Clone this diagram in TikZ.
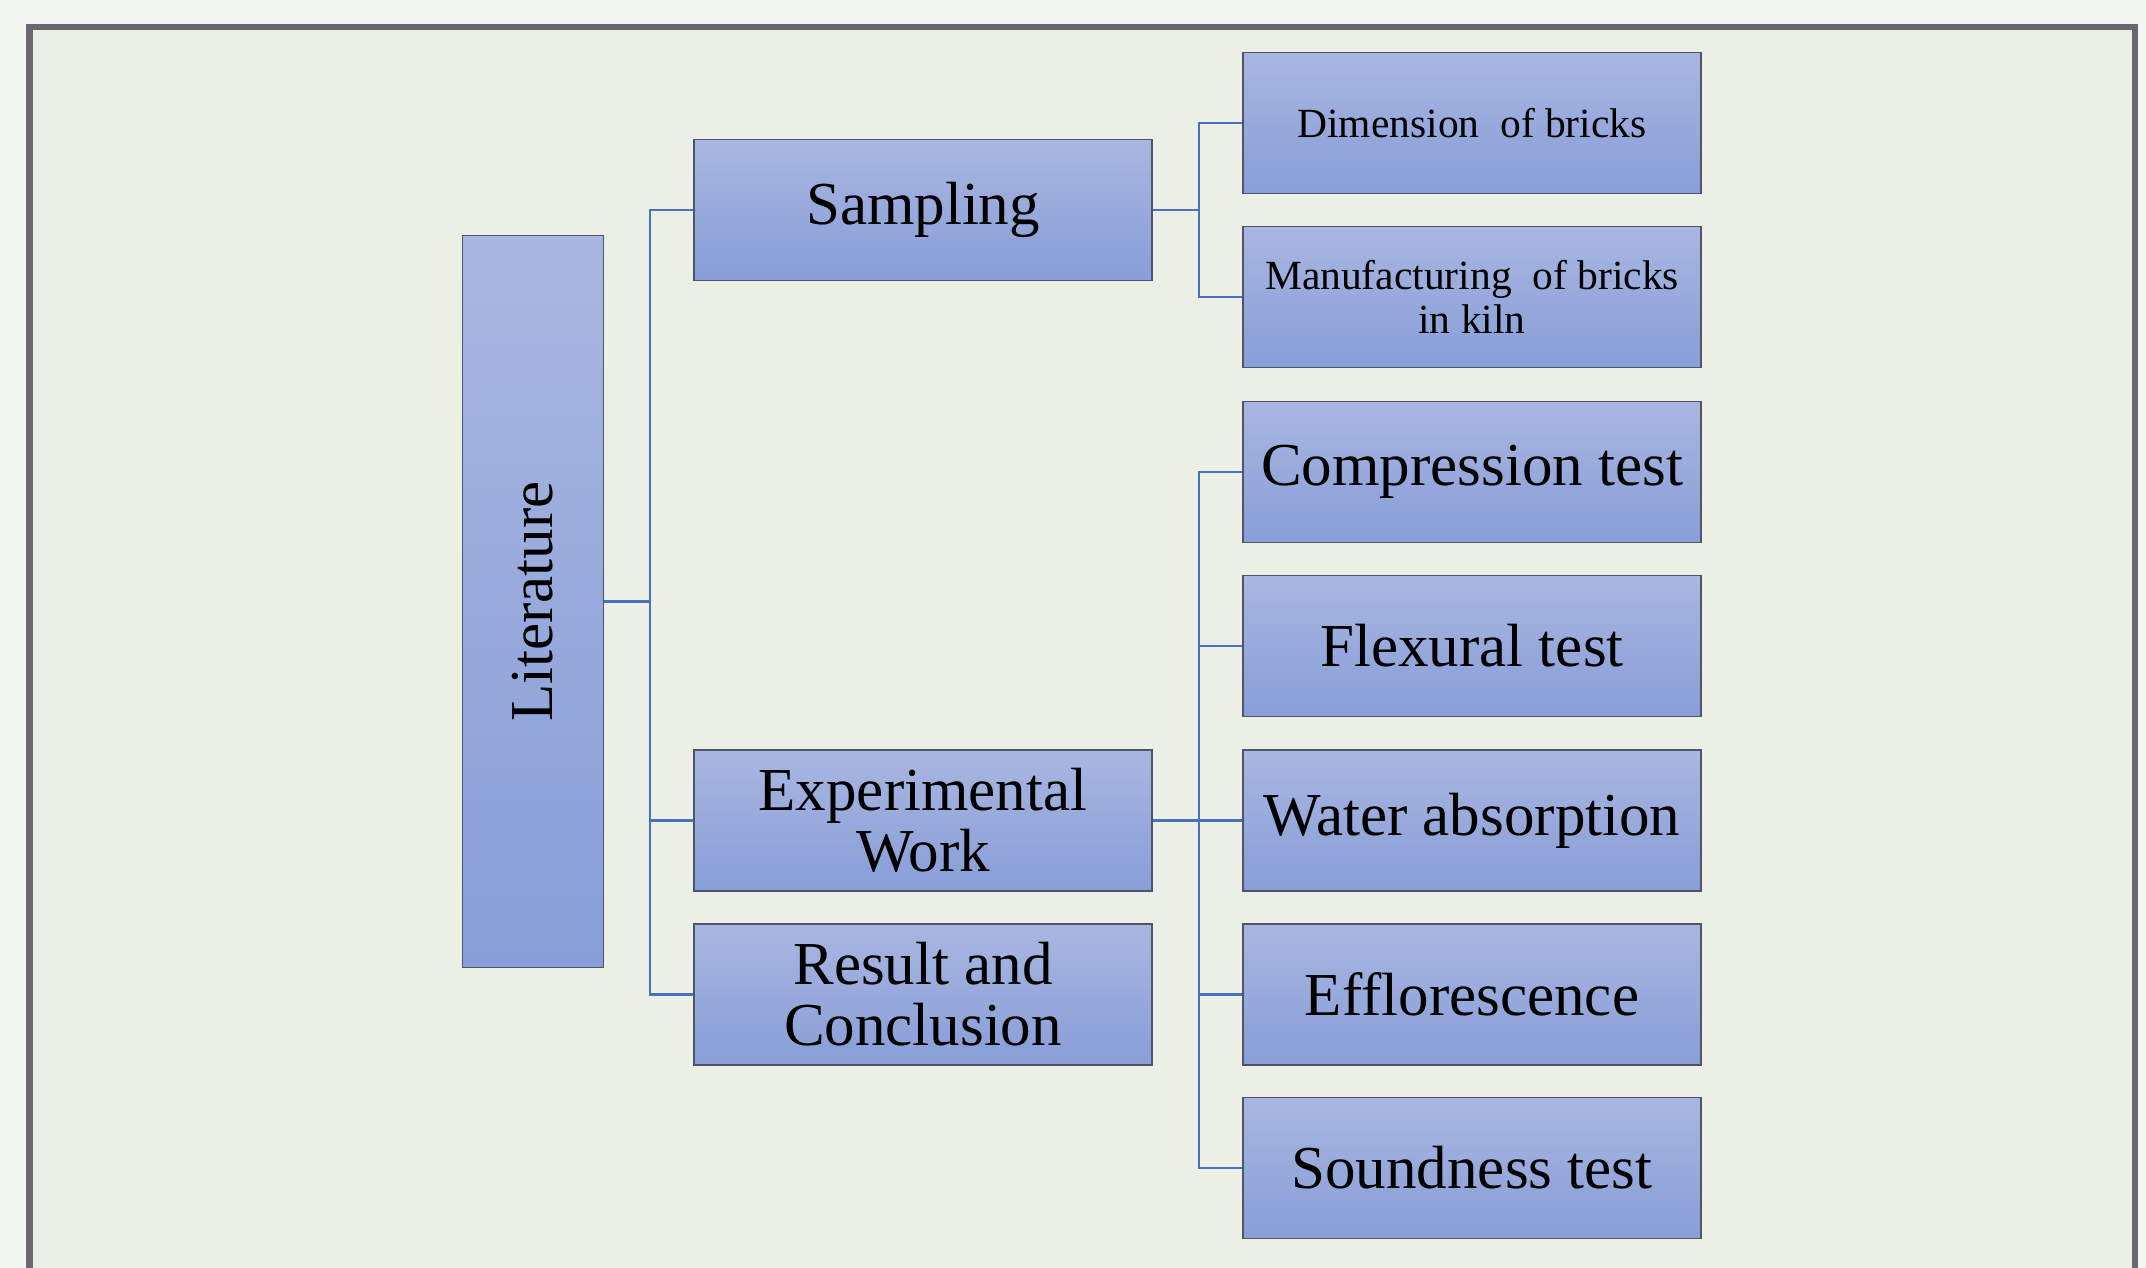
\documentclass[tikz,border=0pt]{standalone}
\usepackage{fontspec}
\setmainfont{Liberation Serif}
\usepackage{graphicx}
\usepackage{tikz}
\usetikzlibrary{shapes,positioning}

\definecolor{outerbg}{HTML}{F4F6F1}
\definecolor{innerbg}{HTML}{ECEFE6}
\definecolor{framegray}{HTML}{6B6770}
\definecolor{boxtop}{HTML}{A9B6E0}
\definecolor{boxbottom}{HTML}{879ED8}
\definecolor{boxedge}{HTML}{4F5466}
\definecolor{connblue}{HTML}{4A70BE}

\tikzstyle{block} = [draw=boxedge, line width=0.8pt, top color=boxtop, bottom color=boxbottom,
    rectangle, minimum height=70.5pt, minimum width=229pt, inner sep=0pt, align=center,
    font=\fontsize{30.5}{30.5}\selectfont]
\tikzstyle{smallblock} = [block, font=\fontsize{20.75}{22}\selectfont]
\tikzstyle{conn} = [draw=connblue, line width=1.4pt]

\begin{document}
\begin{tikzpicture}[x=0.5pt, y=-0.5pt]
    \useasboundingbox (0,0) rectangle (2146,1268);
    \fill [outerbg] (0,0) rectangle (2146,1268);
    \fill [innerbg] (29,27) rectangle (2135,1268);
    \draw [framegray, line width=3.25pt, line join=miter] (29.25,1268) -- (29.25,27.25) -- (2134.75,27.25) -- (2134.75,1268);

    \node [block, minimum width=70.5pt, minimum height=366pt] (literature) at (533,601.5) {\rotatebox{90}{Literature}};
    \node [block] (sampling) at (923,210) {Sampling};
    \node [block, below of=sampling, node distance=305.25pt] (experimental) {Experimental\\Work};
    \node [block, below of=experimental, node distance=87pt] (result) {Result and\\Conclusion};

    \coordinate (litbus) at (650,601.5);
    \draw [conn] (literature.east) -- (litbus);
    \draw [conn] (sampling.west) -| (litbus) |- (result.west);
    \draw [conn] (experimental.west) -| (litbus);

    \node [smallblock] (dimension) at (1472,123) {Dimension\ \ of bricks};
    \node [smallblock, below of=dimension, node distance=87pt] (manufacturing) {Manufacturing\ \ of bricks\\in kiln};
    \coordinate (sampbus) at (1199,210);
    \draw [conn] (sampling.east) -- (sampbus);
    \draw [conn] (dimension.west) -| (sampbus) |- (manufacturing.west);

    \node [block, below of=manufacturing, node distance=87.5pt] (compression) {Compression test};
    \node [block, below of=compression, node distance=87pt] (flexural) {Flexural test};
    \node [block, below of=flexural, node distance=87.25pt] (water) {Water absorption};
    \node [block, below of=water, node distance=87pt] (efflorescence) {Efflorescence};
    \node [block, below of=efflorescence, node distance=86.75pt] (soundness) {Soundness test};
    \coordinate (expbus) at (1199,820.5);
    \draw [conn] (experimental.east) -- (water.west);
    \draw [conn] (compression.west) -| (expbus) |- (soundness.west);
    \draw [conn] (flexural.west) -| (expbus);
    \draw [conn] (efflorescence.west) -| (expbus);
\end{tikzpicture}
\end{document}
